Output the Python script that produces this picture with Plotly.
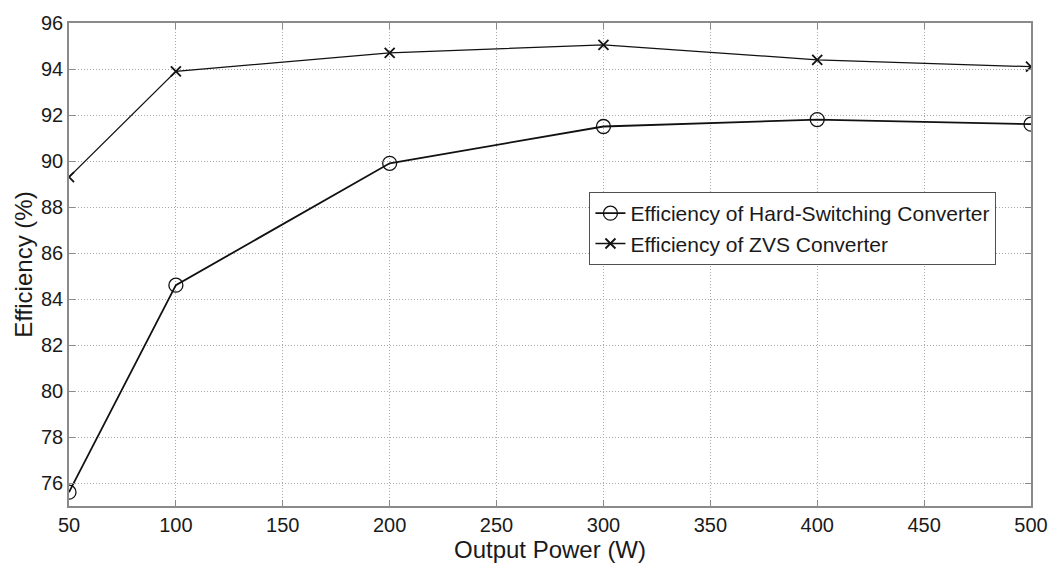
import plotly.graph_objects as go

power_w = [50, 100, 200, 300, 400, 500]
eff_hard = [75.6, 84.6, 89.9, 91.5, 91.8, 91.6]
eff_zvs = [89.3, 93.9, 94.7, 95.05, 94.4, 94.1]

x_ticks = [50, 100, 150, 200, 250, 300, 350, 400, 450, 500]
y_ticks = [76, 78, 80, 82, 84, 86, 88, 90, 92, 94, 96]

font_family = "Liberation Sans, Arial, sans-serif"
frame_color = "#8a8a8a"
text_color = "#1a1a1a"

fig = go.Figure()
fig.add_trace(go.Scatter(
    x=power_w, y=eff_hard, mode="lines+markers",
    name="Efficiency of Hard-Switching Converter",
    line=dict(color="#111111", width=1.8),
    marker=dict(symbol="circle-open", size=14, color="#111111", line=dict(width=1.3)),
))
fig.add_trace(go.Scatter(
    x=power_w, y=eff_zvs, mode="lines+markers",
    name="Efficiency of ZVS Converter",
    line=dict(color="#111111", width=1.3),
    marker=dict(symbol="x-thin-open", size=10, color="#111111", line=dict(width=1.8, color="#111111")),
))

axis_common = dict(
    showline=True, linecolor=frame_color, linewidth=1.5, mirror="ticks",
    ticks="inside", ticklen=6, tickcolor=frame_color, tickwidth=1,
    showgrid=True, gridcolor="#a8a8a8", griddash="1px,2px", gridwidth=1,
    zeroline=False,
    tickfont=dict(family=font_family, size=20, color=text_color),
    title_font=dict(family=font_family, size=24, color=text_color),
)

fig.update_layout(
    width=1060, height=567,
    margin=dict(l=69, r=23, t=16, b=56),
    paper_bgcolor="white", plot_bgcolor="white",
    font=dict(family=font_family, color=text_color),
    showlegend=True,
    legend=dict(
        x=0.541, y=0.650, xanchor="left", yanchor="top",
        bgcolor="white", bordercolor="#505050", borderwidth=1,
        font=dict(family=font_family, size=21, color=text_color),
        tracegroupgap=0, itemwidth=30,
    ),
    xaxis=dict(
        range=[50, 500], tickvals=x_ticks,
        title=dict(text="Output Power (W)", standoff=2),
        **axis_common,
    ),
    yaxis=dict(
        range=[75, 96], tickvals=y_ticks,
        title=dict(text="Efficiency (%)", standoff=2),
        **axis_common,
    ),
)

fig.write_html("out.html")
